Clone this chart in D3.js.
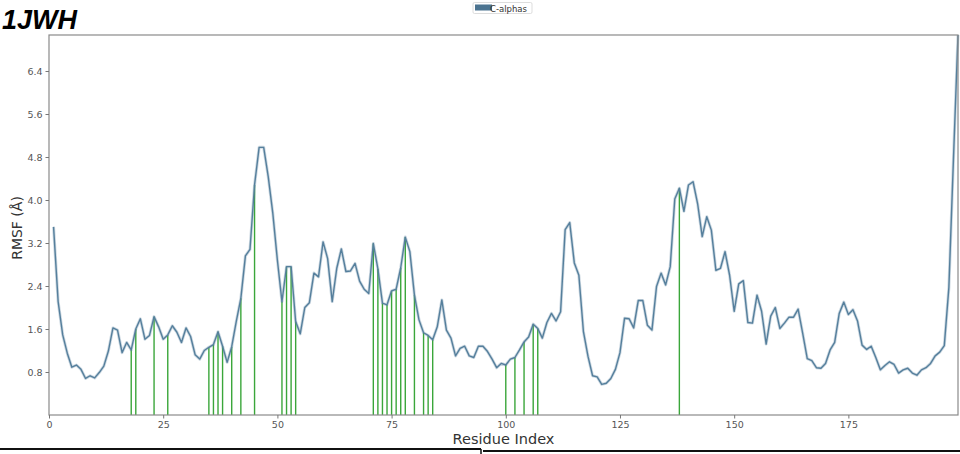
<!DOCTYPE html>
<html>
<head>
<meta charset="utf-8">
<script src="https://cdn.jsdelivr.net/npm/d3@7"></script>
<style>
  html, body { margin: 0; padding: 0; background: #fff; }
  svg { display: block; }
</style>
</head>
<body>
<svg id="chart" width="960" height="454"></svg>
<script>
// RMSF of C-alpha atoms per residue (Å), residues 1..199
const rmsf = [
  3.50, 2.11, 1.49, 1.15, 0.89, 0.93, 0.85, 0.68, 0.73, 0.69,
  0.79, 0.91, 1.19, 1.62, 1.58, 1.16, 1.35, 1.21, 1.60, 1.79,
  1.41, 1.48, 1.83, 1.64, 1.41, 1.49, 1.66, 1.54, 1.35, 1.62,
  1.46, 1.12, 1.04, 1.20, 1.26, 1.31, 1.55, 1.28, 0.98, 1.27,
  1.74, 2.17, 2.96, 3.08, 4.28, 4.98, 4.98, 4.43, 3.75, 2.88,
  2.11, 2.76, 2.76, 1.74, 1.51, 2.00, 2.09, 2.64, 2.57, 3.22,
  2.91, 2.11, 2.73, 3.09, 2.67, 2.68, 2.82, 2.49, 2.34, 2.26,
  3.19, 2.72, 2.08, 2.05, 2.31, 2.34, 2.74, 3.31, 3.04, 2.23,
  1.77, 1.53, 1.48, 1.40, 1.64, 2.14, 1.58, 1.43, 1.10, 1.24,
  1.28, 1.10, 1.07, 1.28, 1.28, 1.18, 1.04, 0.88, 0.96, 0.93,
  1.04, 1.07, 1.21, 1.36, 1.45, 1.69, 1.61, 1.43, 1.72, 1.89,
  1.75, 1.92, 3.45, 3.58, 2.83, 2.60, 1.55, 1.09, 0.73, 0.71,
  0.57, 0.59, 0.68, 0.85, 1.16, 1.80, 1.79, 1.62, 2.13, 2.13,
  1.67, 1.58, 2.39, 2.64, 2.42, 2.76, 4.02, 4.22, 3.79, 4.28,
  4.34, 3.93, 3.32, 3.69, 3.44, 2.69, 2.73, 3.04, 2.60, 1.93,
  2.44, 2.50, 1.72, 1.71, 2.23, 1.93, 1.32, 1.84, 2.00, 1.61,
  1.71, 1.82, 1.82, 1.97, 1.52, 1.05, 1.01, 0.88, 0.87, 0.96,
  1.21, 1.35, 1.89, 2.10, 1.87, 1.96, 1.75, 1.30, 1.22, 1.28,
  1.07, 0.84, 0.92, 0.99, 0.94, 0.78, 0.84, 0.87, 0.78, 0.74,
  0.84, 0.88, 0.96, 1.10, 1.17, 1.29, 2.37, 4.75, 7.07
];
const residues = rmsf.map((_, i) => i + 1);

// Highlighted residues (drawn as vertical stems)
const highlighted = [18, 19, 23, 26, 35, 36, 37, 38, 40, 42, 45, 51, 52, 53, 54,
  71, 72, 73, 74, 75, 76, 77, 78, 80, 82, 83, 84, 100, 102, 104, 106, 107, 138];

const xTicks = [0, 25, 50, 75, 100, 125, 150, 175];
const yTicks = [0.8, 1.6, 2.4, 3.2, 4.0, 4.8, 5.6, 6.4];

const title = "1JWH";
const seriesName = "C-alphas";

const svg = d3.select("#chart");
const plotLeft = 49, plotRight = 958, plotTop = 35, plotBottom = 415;

const x = d3.scaleLinear().domain([0, 199]).range([plotLeft, plotRight]);
const y = d3.scaleLinear().domain([0, 7.07]).range([plotBottom, plotTop]);

const font = "'DejaVu Sans', sans-serif";
const lineColor = "#557f9c";
const stemColor = "#3aa63a";

// stems from the axis up to the RMSF value
svg.append("g").selectAll("line")
  .data(highlighted)
  .join("line")
  .attr("x1", d => x(d)).attr("x2", d => x(d))
  .attr("y1", y(0)).attr("y2", d => y(rmsf[d - 1]))
  .attr("stroke", stemColor)
  .attr("stroke-width", 1.4);

// RMSF trace with a faint halo
const line = d3.line().x((d, i) => x(residues[i])).y(d => y(d));
svg.append("path")
  .datum(rmsf)
  .attr("d", line)
  .attr("fill", "none")
  .attr("stroke", lineColor)
  .attr("stroke-opacity", 0.3)
  .attr("stroke-width", 3)
  .attr("stroke-linejoin", "round");
svg.append("path")
  .datum(rmsf)
  .attr("d", line)
  .attr("fill", "none")
  .attr("stroke", lineColor)
  .attr("stroke-width", 1.4)
  .attr("stroke-linejoin", "round");

// frame
svg.append("rect")
  .attr("x", plotLeft).attr("y", plotTop)
  .attr("width", plotRight - plotLeft).attr("height", plotBottom - plotTop)
  .attr("fill", "none")
  .attr("stroke", "#8a8a8a")
  .attr("stroke-width", 1.2);

// axes
const xAxis = svg.append("g")
  .attr("transform", `translate(0,${plotBottom})`)
  .call(d3.axisBottom(x).tickValues(xTicks).tickSize(3.5).tickPadding(3).tickFormat(d3.format("d")));
const yAxis = svg.append("g")
  .attr("transform", `translate(${plotLeft},0)`)
  .call(d3.axisLeft(y).tickValues(yTicks).tickSize(3.5).tickPadding(3).tickFormat(d3.format(".1f")));
[xAxis, yAxis].forEach(g => {
  g.select(".domain").remove();
  g.selectAll(".tick line").attr("stroke", "#777");
  g.selectAll(".tick text")
    .attr("fill", "#555")
    .attr("font-family", font)
    .attr("font-size", 9.5);
});

// axis titles
svg.append("text")
  .attr("x", (plotLeft + plotRight) / 2).attr("y", 444)
  .attr("text-anchor", "middle")
  .attr("font-family", font).attr("font-size", 14.5)
  .attr("fill", "#333")
  .text("Residue Index");
svg.append("text")
  .attr("transform", `translate(22,228) rotate(-90)`)
  .attr("text-anchor", "middle")
  .attr("font-family", font).attr("font-size", 14)
  .attr("fill", "#333")
  .text("RMSF (Å)");

// title
svg.append("text")
  .attr("x", 2).attr("y", 29)
  .attr("font-family", "'Liberation Sans', Arial, sans-serif")
  .attr("font-size", 27)
  .attr("font-weight", "bold")
  .attr("font-style", "italic")
  .attr("fill", "#000")
  .text(title);

// legend
const lg = svg.append("g");
lg.append("rect")
  .attr("x", 473).attr("y", 2.5).attr("width", 59).attr("height", 11)
  .attr("fill", "#fff").attr("stroke", "#ddd").attr("rx", 1.5);
lg.append("rect")
  .attr("x", 475).attr("y", 4.5).attr("width", 17).attr("height", 6)
  .attr("fill", "#4b7390");
lg.append("text")
  .attr("x", 490).attr("y", 11.5)
  .attr("font-family", font).attr("font-size", 8.5)
  .attr("fill", "#333")
  .text(seriesName);

// page borders beneath the figure
svg.append("line").attr("x1", 0).attr("x2", 481).attr("y1", 449).attr("y2", 449)
  .attr("stroke", "#111").attr("stroke-width", 2);
svg.append("line").attr("x1", 481).attr("x2", 481).attr("y1", 449).attr("y2", 454)
  .attr("stroke", "#111").attr("stroke-width", 1.5);
svg.append("line").attr("x1", 483).attr("x2", 960).attr("y1", 451).attr("y2", 451)
  .attr("stroke", "#111").attr("stroke-width", 2);
</script>
</body>
</html>
